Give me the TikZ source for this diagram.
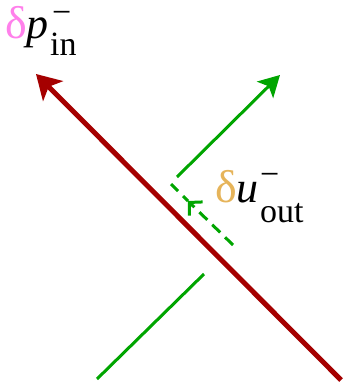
\documentclass[tikz,border=0pt]{standalone}
\usepackage{fontspec}
\setmainfont{Liberation Serif}
\usetikzlibrary{arrows.meta}
\definecolor{redc}{RGB}{165,0,0}
\definecolor{greenc}{RGB}{0,165,0}
\definecolor{pinkc}{RGB}{255,128,235}
\definecolor{goldc}{RGB}{230,180,90}
\newcommand\mylabel[7]{% color, letter, sup x, sup raise, sub x, sub lower, sub text
  \rlap{\fontsize{46}{46}\selectfont\textcolor{#1}{δ}\fontsize{44}{44}\selectfont\textit{#2}}%
  \rlap{\hspace{#3}\smash{\raisebox{#4}{\fontsize{34}{34}\selectfont −}}}%
  \hspace{#5}\raisebox{-#6}{\fontsize{34}{34}\selectfont #7}}
\tikzset{
  redline/.style={draw=redc, line width=5pt, -{Stealth[length=24pt,width=28pt,inset=6pt]}},
  greenline/.style={draw=greenc, line width=3pt},
  greenarrow/.style={greenline, -{Stealth[length=21pt,width=23pt,inset=5pt]}},
  greendash/.style={greenline, dash pattern=on 11pt off 7pt},
  lbl/.style={inner sep=0pt, anchor=base west}
}
\begin{document}
\begin{tikzpicture}[x=1pt,y=-1pt]
\useasboundingbox (0,0) rectangle (344,383);
\coordinate (rs) at (341,380);
\coordinate (re) at (36,74);
\coordinate (gs) at (97,379);
\coordinate (ge) at (204,274);
\coordinate (us) at (177,177);
\coordinate (ue) at (280,75);
\coordinate (ds) at (233,245);
\coordinate (dm) at (188,201);
\coordinate (de) at (171,184);
\draw[greenline] (gs) -- (ge);
\draw[greenarrow] (us) -- (ue);
\draw[greendash, -{Straight Barb[length=9pt,width=19pt]}] (ds) -- (dm);
\draw[greendash, dash phase=4pt] (dm) -- (de);
\draw[redline] (rs) -- (re);
\node[lbl] (lp) at (5,38) {\mylabel{pinkc}{p}{47pt}{14.5pt}{45pt}{17pt}{in}};
\node[lbl] (lu) at (215,202) {\mylabel{goldc}{u}{45pt}{16.5pt}{45pt}{20pt}{out}};
\end{tikzpicture}
\end{document}
